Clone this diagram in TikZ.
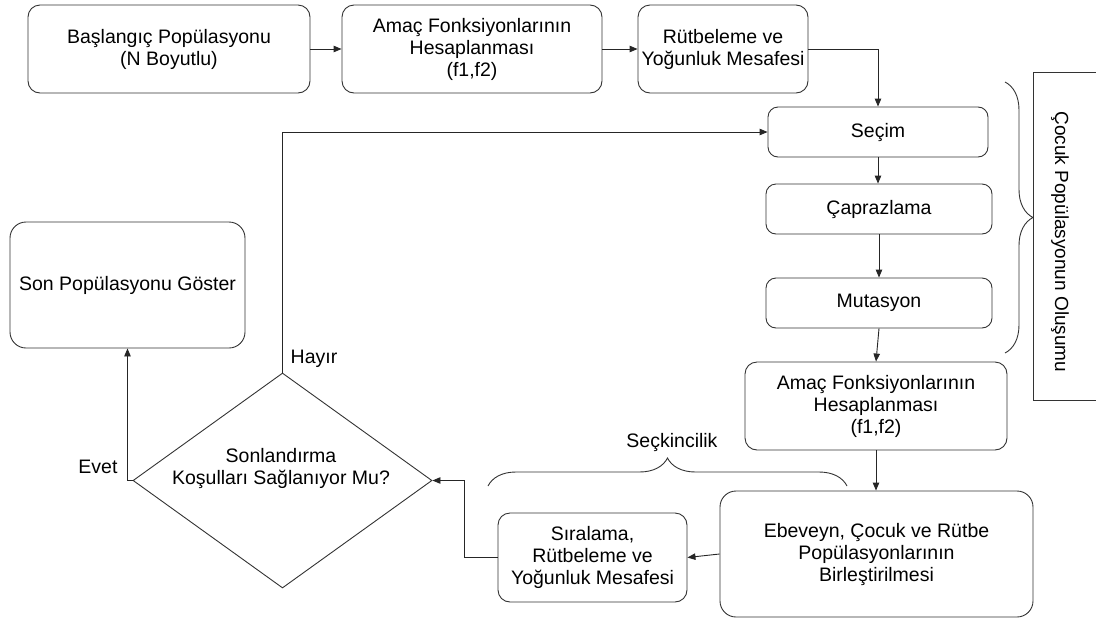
\documentclass[tikz,border=0pt]{standalone}
\usepackage{fontspec}
\setmainfont{Liberation Sans}
\usetikzlibrary{shapes.geometric,arrows.meta,decorations.pathreplacing}
\begin{document}
\begin{tikzpicture}[x=1pt,y=-1pt,
  every node/.style={font=\fontsize{19.5}{22}\selectfont, text=black},
  stepbox/.style={draw=black!80, line width=0.9pt, rounded corners=12pt, align=center, inner sep=0pt},
  flow/.style={draw=black!85, line width=0.9pt, -{Triangle[length=8pt,width=6.5pt]}},
  bracket/.style={draw=black!80, line width=0.9pt, decorate, decoration={brace, amplitude=28pt}}
]
\useasboundingbox (0,0) rectangle (1096,619);

% top row
\node[stepbox, minimum width=282pt, minimum height=88pt] (b1) at (169,49) {Başlangıç Popülasyonu\\(N Boyutlu)};
\node[stepbox, minimum width=260pt, minimum height=88pt] (b2) at (472,49) {Amaç Fonksiyonlarının\\Hesaplanması\\(f1,f2)};
\node[stepbox, minimum width=170pt, minimum height=88pt] (b3) at (723,49) {Rütbeleme ve\\Yoğunluk Mesafesi};

% child population steps
\node[stepbox, rounded corners=10pt, minimum width=220pt, minimum height=50pt] (sec) at (878,132) {Seçim};
\node[stepbox, rounded corners=10pt, minimum width=226pt, minimum height=50pt] (cap) at (879,209) {Çaprazlama};
\node[stepbox, rounded corners=10pt, minimum width=226pt, minimum height=50pt] (mut) at (879,303) {Mutasyon};
\node[stepbox, minimum width=262pt, minimum height=88pt] (am2) at (876,406) {Amaç Fonksiyonlarının\\Hesaplanması\\(f1,f2)};
\node[stepbox, rounded corners=16pt, minimum width=313pt, minimum height=126pt] (ebe) at (876.5,554) {Ebeveyn, Çocuk ve Rütbe\\Popülasyonlarının\\Birleştirilmesi};
\node[stepbox, minimum width=189pt, minimum height=89pt] (sir) at (592.5,557.5) {Sıralama,\\Rütbeleme ve\\Yoğunluk Mesafesi};

% decision and result
\node[draw=black!80, line width=0.9pt, diamond, minimum width=299pt, minimum height=215pt, inner sep=0pt] (dia) at (282.5,480.5) {};
\node[align=center] (diatext) at (281,468) {Sonlandırma\\Koşulları Sağlanıyor Mu?};
\node[stepbox, rounded corners=16pt, minimum width=235pt, minimum height=126pt] (son) at (127.5,285) {Son Popülasyonu Göster};

% side label box
\node[draw=black!80, line width=0.9pt, minimum width=67pt, minimum height=328pt, inner sep=0pt] (lbl) at (1066.5,236) {};
\node[rotate=-90, font=\fontsize{19}{22}\selectfont] (lbltext) at (1060,242) {Çocuk Popülasyonun Oluşumu};

% braces
\coordinate (brA) at (1005,82);
\coordinate (brB) at (1005,353);
\draw[bracket] (brA) -- (brB);
\coordinate (brC) at (488,486);
\coordinate (brD) at (847,486);
\draw[bracket] (brC) -- (brD);
\node (elit) at (672,442) {Seçkincilik};

% connectors
\draw[flow] (b1) -- (b2);
\draw[flow] (b2) -- (b3);
\draw[flow] (b3.east) -| (sec.north);
\draw[flow] (sec.south) -- (sec.south |- cap.north);
\draw[flow] (cap) -- (mut);
\draw[flow] (mut.south) -- (am2.north);
\draw[flow] (am2.south) -- (am2.south |- ebe.north);
\draw[flow] (ebe.west) -- (sir.east);
\draw[flow] (sir.west) -- ++(-33,0) |- (dia.east);
\draw[flow] (dia.north) |- (sec.west);
\draw[flow] (dia.west) -| (son.south);

% branch labels
\node (yes) at (98,467) {Evet};
\node (no) at (314,359) {Hayır};
\end{tikzpicture}
\end{document}
